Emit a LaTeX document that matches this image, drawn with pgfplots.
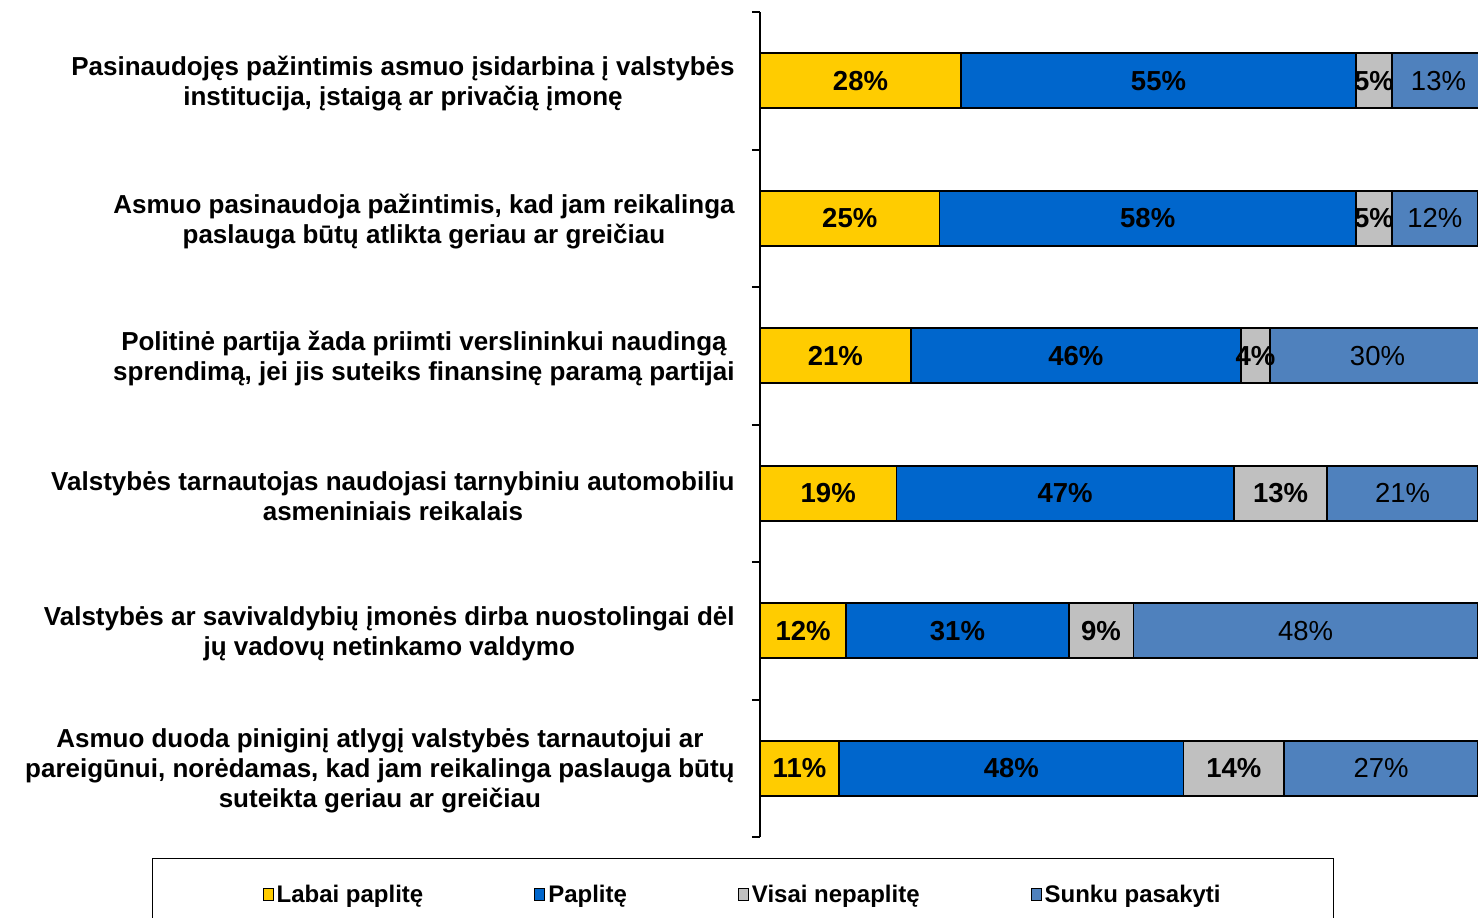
\documentclass[border=0pt]{standalone}
\usepackage{pgfplots}
\usepackage{pgfplotstable}
\pgfplotsset{compat=1.18}
\usepackage{fontspec}
\setmainfont{Liberation Sans}
\definecolor{cY}{HTML}{FFCC00}
\definecolor{cB}{HTML}{0066CC}
\definecolor{cG}{HTML}{C0C0C0}
\definecolor{cS}{HTML}{4F81BD}
\pgfplotstableread{
y a b c d
0 28 55 5 13
1 25 58 5 12
2 21 46 4 30
3 19 47 13 21
4 12 31 9 48
5 11 48 14 27
}\data
\pgfplotsset{
  legsq/.style={legend image code/.code={\draw[##1,draw=black,line width=0.5pt] (0pt,-3pt) rectangle (5pt,3pt);}},
  seg/.style={
    draw=black, line width=0.8pt, forget plot,
    point meta=explicit symbolic,
    nodes near coords={\pgfplotspointmeta\%},
    every node near coord/.append style={anchor=center, text=black},
  },
}
\begin{document}
\begin{tikzpicture}
\begin{axis}[
  at={(380pt,40pt)}, anchor=south west,
  scale only axis, width=359pt, height=412.5pt,
  xbar stacked, bar width=27.5pt,
  xmin=0, xmax=100, ymin=-0.5, ymax=5.5,
  clip=false,
  y dir=reverse,
  axis x line=none, axis y line*=left,
  axis line style={line width=1pt, black},
  ytick={0,...,5},
  major tick length=0pt,
  yticklabels={
    {Pasinaudojęs pažintimis asmuo įsidarbina į valstybės\\institucija, įstaigą ar privačią įmonę},
    {Asmuo pasinaudoja pažintimis, kad jam reikalinga\\paslauga būtų atlikta geriau ar greičiau},
    {Politinė partija žada priimti verslininkui naudingą\\sprendimą, jei jis suteiks finansinę paramą partijai},
    {Valstybės tarnautojas naudojasi tarnybiniu automobiliu\\asmeniniais reikalais},
    {Valstybės ar savivaldybių įmonės dirba nuostolingai dėl\\jų vadovų netinkamo valdymo},
    {Asmuo duoda piniginį atlygį valstybės tarnautojui ar\\pareigūnui, norėdamas, kad jam reikalinga paslauga būtų\\suteikta geriau ar greičiau}},
  yticklabel style={align=center, anchor=east, inner sep=0pt, xshift=-12.5pt, yshift=-1.5pt,
    font=\bfseries\fontsize{13}{15}\selectfont},
  extra y ticks={-0.5,0.5,1.5,2.5,3.5,4.5,5.5},
  extra y tick labels={},
  extra y tick style={major tick length=4pt, tick align=outside,
    tick style={line width=1pt, black}},
  legend columns=4,
  legend style={at={(0,0)}, anchor=north west, xshift=-304pt, yshift=-10.5pt,
    draw=black, line width=0.6pt, fill=white,
    inner xsep=55pt, inner ysep=11pt,
    font=\bfseries\fontsize{12}{14}\selectfont,
    /tikz/every even column/.append style={column sep=54pt},
    nodes={inner xsep=1.5pt}},
]
\addplot[fill=cY, seg, every node near coord/.append style={font=\bfseries\fontsize{13.75}{16}\selectfont}] table[x=a,y=y,meta=a]{\data};
\addplot[fill=cB, seg, every node near coord/.append style={font=\bfseries\fontsize{13.75}{16}\selectfont}] table[x=b,y=y,meta=b]{\data};
\addplot[fill=cG, seg, every node near coord/.append style={font=\bfseries\fontsize{13.75}{16}\selectfont}] table[x=c,y=y,meta=c]{\data};
\addplot[fill=cS, seg, every node near coord/.append style={font=\fontsize{13.75}{16}\selectfont}] table[x=d,y=y,meta=d]{\data};
\addlegendimage{fill=cY, draw=black, legsq}
\addlegendentry{Labai paplitę}
\addlegendimage{fill=cB, draw=black, legsq}
\addlegendentry{Paplitę}
\addlegendimage{fill=cG, draw=black, legsq}
\addlegendentry{Visai nepaplitę}
\addlegendimage{fill=cS, draw=black, legsq}
\addlegendentry{Sunku pasakyti}
\end{axis}
\pgfresetboundingbox
\useasboundingbox (0,0) rectangle (739pt,458.5pt);
\end{tikzpicture}
\end{document}
